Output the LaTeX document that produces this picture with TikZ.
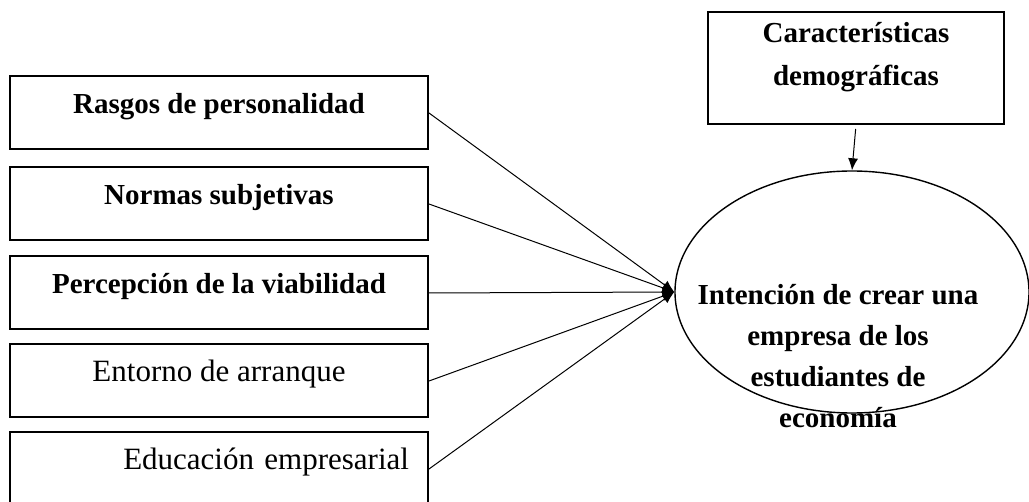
\documentclass[tikz,border=0pt]{standalone}
\usepackage{fontspec}
\setmainfont{Liberation Serif}
\usetikzlibrary{shapes.geometric,arrows.meta}

\newcommand{\boldText}{\fontsize{14.5}{20.5}\selectfont\bfseries}
\newcommand{\plainText}{\fontsize{15.5}{20.5}\selectfont}

\begin{document}
\begin{tikzpicture}[x=0.5pt,y=-0.5pt,
    factor/.style={draw,line width=1pt,minimum width=209pt,minimum height=36.5pt,
      inner sep=2pt,text depth=10pt,font=\boldText},
    link/.style={line width=0.5pt,-{Latex[length=6pt,width=5pt]}}]
    \pgfmathsetmacro{\boxLeft}{10}
    \pgfmathsetmacro{\boxWidth}{418}
    \pgfmathsetmacro{\boxX}{\boxLeft+\boxWidth/2}

    \useasboundingbox (0,0) rectangle (1029,502);

    % Factores
    \node[factor] (rasgos) at (\boxX,113) {Rasgos de personalidad};
    \node[factor] (normas) at (\boxX,204) {Normas subjetivas};
    \node[factor] (percepcion) at (\boxX,293) {Percepción de la viabilidad};
    \node[factor,font=\plainText] (entorno) at (\boxX,381) {Entorno de arranque};
    \node[factor,font=\plainText,align=right,text width=190pt] (educacion) at (\boxX,469) {Educación empresarial};

    % Caracteristicas
    \node[factor,minimum width=148pt,minimum height=56pt,text depth=14.5pt,
      font=\fontsize{14.5}{21.5}\selectfont\bfseries,align=center] (demograficas) at (856,68) {Características\\demográficas};

    % Intencion
    \node[draw,ellipse,line width=0.7pt,minimum width=177pt,minimum height=121pt] (intencion) at (852,292) {};
    \node[font=\boldText,align=center] (intencionTexto) at (838,356) {Intención de crear una\\empresa de los\\estudiantes de\\economía};

    % Flechas
    \foreach \src in {rasgos,normas,percepcion,entorno,educacion}
        \draw[link] (\src.east) -- (intencion.west);
    \draw[link,shorten <=2pt] (demograficas.south) -- (intencion.north);
\end{tikzpicture}
\end{document}
